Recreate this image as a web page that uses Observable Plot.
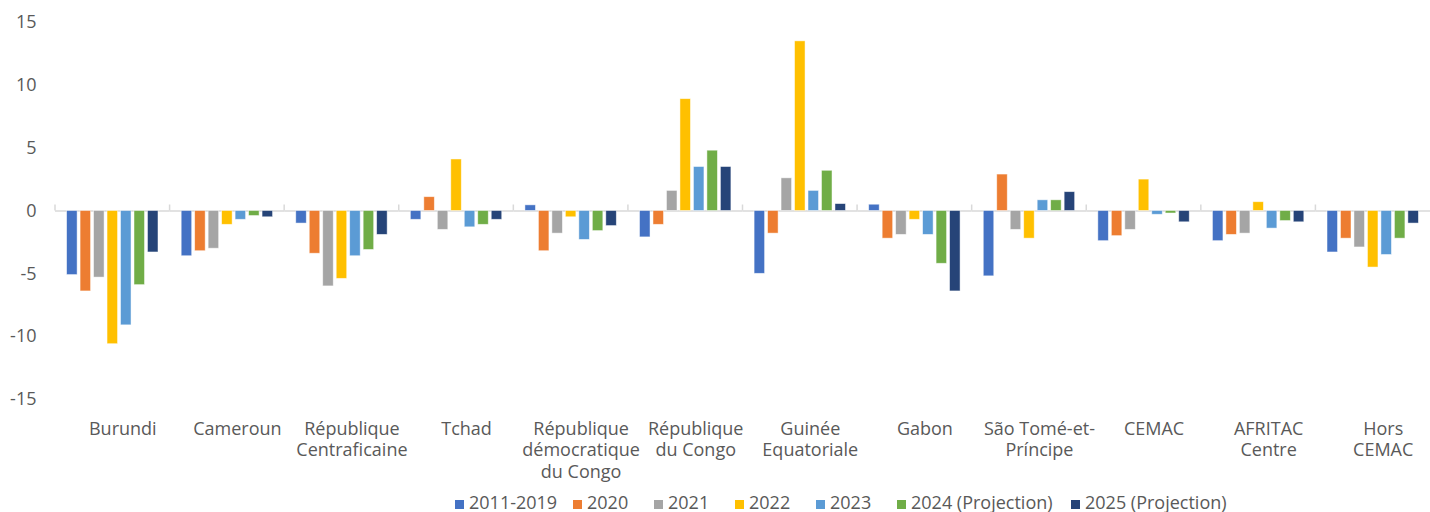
<!DOCTYPE html>
<html>
<head>
<meta charset="utf-8">
<script src="https://cdn.jsdelivr.net/npm/d3@7"></script>
<script src="https://cdn.jsdelivr.net/npm/@observablehq/plot@0.6"></script>
<style>
  body { margin: 0; background: #fff; font-family: "Open Sans", sans-serif; color: #595959; }
  #legend { display: flex; align-items: baseline; margin-left: 455px; margin-top: 5px; font-size: 18px; line-height: 22px; white-space: nowrap; }
  #legend .item { display: flex; align-items: baseline; }
  #legend .item:nth-child(1) { width: 118px; }
  #legend .item:nth-child(2), #legend .item:nth-child(3), #legend .item:nth-child(4), #legend .item:nth-child(5) { width: 81px; }
  #legend .item:nth-child(6) { width: 174px; }
  #legend .sw { display: inline-block; width: 9px; height: 9px; margin-right: 5px; }
</style>
</head>
<body>
<div id="chart"></div>
<div id="legend"></div>
<script>
const categories = ["Burundi", "Cameroun", "RCA", "Tchad", "RDC", "RC", "GE", "Gabon", "STP", "CEMAC", "AFRITAC", "HorsCEMAC"];
const categoryLabels = ["Burundi", "Cameroun", "République\nCentraficaine", "Tchad", "République\ndémocratique\ndu Congo", "République\ndu Congo", "Guinée\nEquatoriale", "Gabon", "São Tomé-et-\nPríncipe", "CEMAC", "AFRITAC\nCentre", "Hors\nCEMAC"];
const series = ["2011-2019", "2020", "2021", "2022", "2023", "2024 (Projection)", "2025 (Projection)"];
const colors = ["#4472C4", "#ED7D31", "#A5A5A5", "#FFC000", "#5B9BD5", "#70AD47", "#264478"];

const v2011_2019 = [-5.1, -3.6, -1.0, -0.7, 0.45, -2.1, -5.0, 0.5, -5.2, -2.4, -2.4, -3.3];
const v2020      = [-6.4, -3.2, -3.4, 1.1, -3.2, -1.1, -1.8, -2.2, 2.9, -2.0, -1.9, -2.2];
const v2021      = [-5.3, -3.0, -6.0, -1.5, -1.8, 1.6, 2.6, -1.9, -1.5, -1.5, -1.8, -2.9];
const v2022      = [-10.6, -1.1, -5.4, 4.1, -0.5, 8.9, 13.5, -0.7, -2.2, 2.5, 0.7, -4.5];
const v2023      = [-9.1, -0.7, -3.6, -1.3, -2.3, 3.5, 1.6, -1.9, 0.85, -0.3, -1.4, -3.5];
const v2024      = [-5.9, -0.4, -3.1, -1.1, -1.6, 4.8, 3.2, -4.2, 0.85, -0.2, -0.8, -2.2];
const v2025      = [-3.3, -0.5, -1.9, -0.7, -1.2, 3.5, 0.55, -6.4, 1.5, -0.9, -0.9, -1.0];
const yTicks = [-15, -10, -5, 0, 5, 10, 15];

const seriesValues = [v2011_2019, v2020, v2021, v2022, v2023, v2024, v2025];
const data = [];
categories.forEach((c, i) => {
  series.forEach((s, j) => data.push({category: c, series: s, value: seriesValues[j][i]}));
});
const labelOf = new Map(categories.map((c, i) => [c, categoryLabels[i]]));

// small separator tick at the left edge of each category group, above the zero line
const groupTicks = (index, scales, values, dimensions) => {
  const sx = scales.scales && scales.scales.x;
  const r = sx ? sx.range : scales.x.range();
  const x0 = Math.min(...r);
  const y0 = scales.y(0);
  return d3.create("svg:line")
    .attr("x1", x0).attr("x2", x0)
    .attr("y1", y0).attr("y2", y0 - 6)
    .attr("stroke", "#d9d9d9").attr("stroke-width", 1.5)
    .node();
};

const chart = Plot.plot({
  width: 1430,
  height: 486,
  marginLeft: 55,
  marginRight: 0,
  marginTop: 22,
  marginBottom: 87,
  style: {fontFamily: "Open Sans, sans-serif", fontSize: "18px", color: "#595959", background: "#fff"},
  fx: {domain: categories, padding: 0, round: false, label: null},
  x: {domain: series, paddingInner: 0.22, paddingOuter: 0.86, round: false, axis: null},
  y: {domain: [-15, 15], label: null},
  color: {domain: series, range: colors},
  marks: [
    Plot.axisY({ticks: yTicks, tickSize: 0, tickPadding: 19, fontSize: 18, tickFormat: d => String(d), label: null}),
    Plot.axisFx({anchor: "bottom", tickSize: 0, tickPadding: 20, fontSize: 18, lineHeight: 1.2, dx: 10, label: null, tickFormat: d => labelOf.get(d)}),
    Plot.ruleY([0], {stroke: "#d9d9d9", strokeWidth: 1.5}),
    groupTicks,
    Plot.barY(data, {fx: "category", x: "series", y: "value", fill: "series", stroke: "white", strokeWidth: 0.8, strokeOpacity: 0.6})
  ]
});
document.getElementById("chart").appendChild(chart);

const legend = document.getElementById("legend");
series.forEach((s, i) => {
  const item = document.createElement("div");
  item.className = "item";
  const sw = document.createElement("span");
  sw.className = "sw";
  sw.style.background = colors[i];
  const t = document.createElement("span");
  t.textContent = s;
  item.appendChild(sw);
  item.appendChild(t);
  legend.appendChild(item);
});
</script>
</body>
</html>
